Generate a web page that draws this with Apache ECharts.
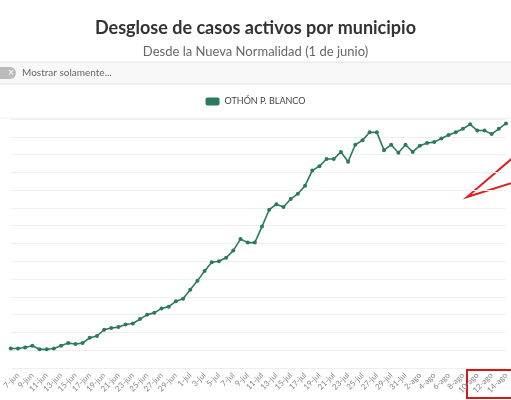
<!DOCTYPE html>
<html><head><meta charset="utf-8">
<script src="https://cdn.jsdelivr.net/npm/echarts@6/dist/echarts.min.js"></script>
<style>html,body{margin:0;padding:0;background:#fff}#c{width:511px;height:400px}</style>
</head><body><div id="c"></div>
<script>
const months = ['jun', 'jul', 'ago']
const dates = []
for (let d = 6; d <= 30; d++) dates.push(d + '-jun')
for (let d = 1; d <= 31; d++) dates.push(d + '-jul')
for (let d = 1; d <= 14; d++) dates.push(d + '-ago')

const activos = [
  22, 22, 23, 25, 21, 21, 22, 25, 28, 27, 28, 34, 36, 43, 45, 46, 49, 50, 55, 60,
  62, 67, 69, 75, 78, 88, 98, 109, 119, 120, 124, 132, 145, 141, 141,
  159, 178, 184, 181, 190, 196, 205, 222, 227, 235, 235, 243, 232, 251, 256,
  265, 265, 245, 251, 242, 251, 243, 250, 253, 254, 258, 262, 265, 269, 274,
  267, 267, 263, 269, 275
]

const chart = echarts.init(document.getElementById('c'))
const font = 'Lato, "Open Sans", sans-serif'
chart.setOption({
  animation: false,
  textStyle: { fontFamily: font },
  title: {
    text: 'Desglose de casos activos por municipio',
    subtext: 'Desde la Nueva Normalidad (1 de junio)',
    left: 'center', top: 14, itemGap: 8,
    textStyle: { fontSize: 18, fontWeight: 'bold', color: '#333', fontFamily: font },
    subtextStyle: { fontSize: 13, color: '#666', fontFamily: font }
  },
  legend: {
    top: 92, left: 'center', itemWidth: 14, itemHeight: 8, icon: 'roundRect',
    textStyle: { fontSize: 9, color: '#444' }
  },
  graphic: [
    { type: 'rect', shape: { x: -1, y: 62, width: 513, height: 22 }, style: { fill: '#f8f8f8', stroke: '#e6e6e6' } },
    { type: 'rect', shape: { x: -8, y: 67, width: 24, height: 12, r: 6 }, style: { fill: '#bbb' } },
    { type: 'text', x: 8, y: 73, style: { text: '×', fill: '#fff', fontSize: 10, verticalAlign: 'middle' } },
    { type: 'text', x: 22, y: 73, style: { text: 'Mostrar solamente...', fill: '#666', fontSize: 10, fontFamily: font, verticalAlign: 'middle' } },
    { type: 'line', shape: { x1: 0, y1: 118, x2: 511, y2: 118 }, style: { stroke: '#eee' } },
    { type: 'polyline', shape: { points: [[515, 156], [467, 197], [515, 182]] }, style: { stroke: '#e02020', lineWidth: 2, fill: null } },
    { type: 'rect', shape: { x: 467, y: 370, width: 50, height: 28 }, style: { stroke: '#d01818', lineWidth: 2, fill: null } }
  ],
  grid: { left: 0, right: 5, top: 119, bottom: 32 },
  xAxis: {
    type: 'category', data: dates, boundaryGap: false,
    axisLine: { show: false }, axisTick: { show: false },
    axisLabel: {
      rotate: 45, fontSize: 8, color: '#888', margin: 6,
      interval: (i) => i % 2 === 1
    }
  },
  yAxis: {
    type: 'value', min: 0, max: 280, interval: 20,
    axisLabel: { show: false },
    splitLine: { lineStyle: { color: '#eeeeee' } }
  },
  series: [{
    name: 'OTHÓN P. BLANCO', type: 'line', data: activos,
    symbol: 'circle', symbolSize: 4,
    itemStyle: { color: '#2b7a5a' },
    lineStyle: { width: 1.6, color: '#2b7a5a' }
  }]
})
</script></body></html>
